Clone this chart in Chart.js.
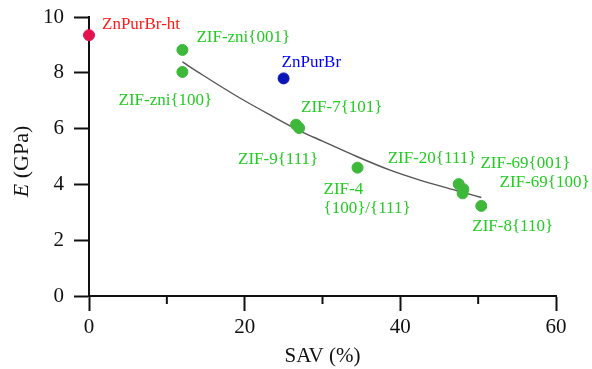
<!DOCTYPE html>
<html>
<head>
<meta charset="utf-8">
<script src="https://cdn.jsdelivr.net/npm/chart.js@4"></script>
<style>
  body { margin: 0; background: #fff; }
  #wrap { width: 592px; height: 369px; }
</style>
</head>
<body>
<div id="wrap"><canvas id="chart" width="592" height="369"></canvas></div>
<script>
// data
const zifNames = ['ZIF-zni{001}', 'ZIF-zni{100}', 'ZIF-7{101}', 'ZIF-9{111}', 'ZIF-4\n{100}/{111}',
                  'ZIF-20{111}', 'ZIF-69{001}', 'ZIF-69{100}', 'ZIF-8{110}'];
const zifSav = [12.0, 12.0, 26.6, 27.0, 34.5, 47.5, 48.1, 48.0, 50.4];
const zifE = [8.82, 8.03, 6.14, 6.02, 4.6, 4.01, 3.83, 3.68, 3.23];

const htName = 'ZnPurBr-ht';
const htSav = [0];
const htE = [9.35];

const brName = 'ZnPurBr';
const brSav = [25.0];
const brE = [7.8];

// fitted trend line
const fitSav = [12, 14.6, 19, 23.2, 27.1, 30, 34.4, 38.6, 42.9, 47.2, 50.4];
const fitE = [8.39, 7.92, 7.16, 6.5, 5.92, 5.55, 5.0, 4.52, 4.12, 3.78, 3.53];

const xTicks = [0, 20, 40, 60];
const yTicks = [0, 2, 4, 6, 8, 10];

// label offsets from the point, in px: [dx, dy, align]
const zifLabelPos = [
  [14, -12, 'left'], [-17, 29, 'center'], [5, -17, 'left'], [-21, 31, 'center'],
  [-34, 22, 'left'], [-71, -26, 'left'], [17, -26, 'left'], [37, -11, 'left'], [-9, 21, 'left']
];

const serif = "'Liberation Serif', 'Times New Roman', serif";
const green = '#22cc22';

const toPts = (xs, ys) => xs.map((x, i) => ({ x: x, y: ys[i] }));

const labelPlugin = {
  id: 'pointLabels',
  afterDatasetsDraw(chart) {
    const ctx = chart.ctx;
    ctx.save();
    ctx.font = '17px ' + serif;
    ctx.textBaseline = 'middle';
    // green labels
    const meta = chart.getDatasetMeta(0);
    meta.data.forEach((pt, i) => {
      const [dx, dy, align] = zifLabelPos[i];
      ctx.fillStyle = green;
      ctx.textAlign = align;
      zifNames[i].split('\n').forEach((line, j) => {
        ctx.fillText(line, pt.x + dx, pt.y + dy + j * 19);
      });
    });
    const ht = chart.getDatasetMeta(1).data[0];
    ctx.textAlign = 'left';
    ctx.fillStyle = '#ff1a1a';
    ctx.fillText(htName, ht.x + 13, ht.y - 11);
    const br = chart.getDatasetMeta(2).data[0];
    ctx.fillStyle = '#0000ff';
    ctx.fillText(brName, br.x - 2, br.y - 16);
    ctx.restore();
  }
};

const axisPlugin = {
  id: 'axisExtras',
  afterDraw(chart) {
    const ctx = chart.ctx;
    const xs = chart.scales.x;
    const area = chart.chartArea;
    ctx.save();
    // minor ticks on the x axis
    ctx.strokeStyle = '#111';
    ctx.lineWidth = 2;
    [10, 30, 50].forEach(v => {
      const px = xs.getPixelForValue(v);
      ctx.beginPath();
      ctx.moveTo(px, area.bottom);
      ctx.lineTo(px, area.bottom + 8);
      ctx.stroke();
    });
    // y title: italic E + (GPa)
    ctx.fillStyle = '#111';
    ctx.translate(22, (area.top + area.bottom) / 2 + 5);
    ctx.rotate(-Math.PI / 2);
    ctx.textBaseline = 'middle';
    ctx.font = 'italic 22px ' + serif;
    const e = 'E';
    const eW = ctx.measureText(e).width;
    ctx.font = '22px ' + serif;
    const rest = ' (GPa)';
    const rW = ctx.measureText(rest).width;
    let start = -(eW + rW) / 2;
    ctx.font = 'italic 22px ' + serif;
    ctx.textAlign = 'left';
    ctx.fillText(e, start, 0);
    ctx.font = '22px ' + serif;
    ctx.fillText(rest, start + eW, 0);
    ctx.restore();
  }
};

new Chart(document.getElementById('chart').getContext('2d'), {
  type: 'scatter',
  data: {
    datasets: [
      {
        label: 'ZIF',
        data: toPts(zifSav, zifE),
        backgroundColor: '#3db83a',
        borderColor: '#3db83a',
        pointRadius: 5.5,
        pointHoverRadius: 5.5,
        clip: false,
        order: 1
      },
      {
        label: htName,
        data: toPts(htSav, htE),
        backgroundColor: '#e3124c',
        borderColor: '#e3124c',
        pointRadius: 5.5,
        clip: false,
        order: 1
      },
      {
        label: brName,
        data: toPts(brSav, brE),
        backgroundColor: '#0a16b8',
        borderColor: '#0a16b8',
        pointRadius: 5.5,
        clip: false,
        order: 1
      },
      {
        label: 'fit',
        type: 'line',
        data: toPts(fitSav, fitE),
        borderColor: '#555',
        borderWidth: 1.4,
        pointRadius: 0,
        fill: false,
        cubicInterpolationMode: 'monotone',
        clip: false,
        order: 2
      }
    ]
  },
  options: {
    responsive: false,
    animation: false,
    layout: { padding: { left: 0, top: 17, right: 36, bottom: 0 } },
    plugins: {
      legend: { display: false },
      tooltip: { enabled: false },
      title: { display: false }
    },
    scales: {
      x: {
        type: 'linear',
        min: 0,
        max: 60,
        afterFit(scale) {
          scale.height = 73;
          scale.paddingLeft = 0;
          scale.paddingRight = 0;
        },
        border: { display: true, color: '#111', width: 2 },
        grid: {
          drawOnChartArea: false,
          drawTicks: true,
          tickLength: 15,
          tickWidth: 2,
          tickColor: c => (xTicks.includes(c.tick.value) ? '#111' : 'rgba(0,0,0,0)')
        },
        ticks: {
          stepSize: 10,
          padding: 4,
          color: '#111',
          font: { family: serif, size: 21 },
          maxRotation: 0,
          callback: v => (xTicks.includes(v) ? String(v) : '')
        },
        title: {
          display: true,
          text: 'SAV (%)',
          color: '#111',
          font: { family: serif, size: 21 },
          padding: { top: 0, bottom: 0 }
        }
      },
      y: {
        type: 'linear',
        min: 0,
        max: 10,
        afterFit(scale) {
          scale.width = 89;
          scale.paddingTop = 0;
          scale.paddingBottom = 0;
        },
        border: { display: true, color: '#111', width: 2 },
        grid: {
          drawOnChartArea: false,
          drawTicks: true,
          tickLength: 15,
          tickWidth: 2,
          tickColor: '#111'
        },
        ticks: {
          stepSize: 2,
          padding: 10,
          color: '#111',
          font: { family: serif, size: 21 },
          callback: v => (yTicks.includes(v) ? String(v) : '')
        }
      }
    }
  },
  plugins: [labelPlugin, axisPlugin]
});
</script>
</body>
</html>
